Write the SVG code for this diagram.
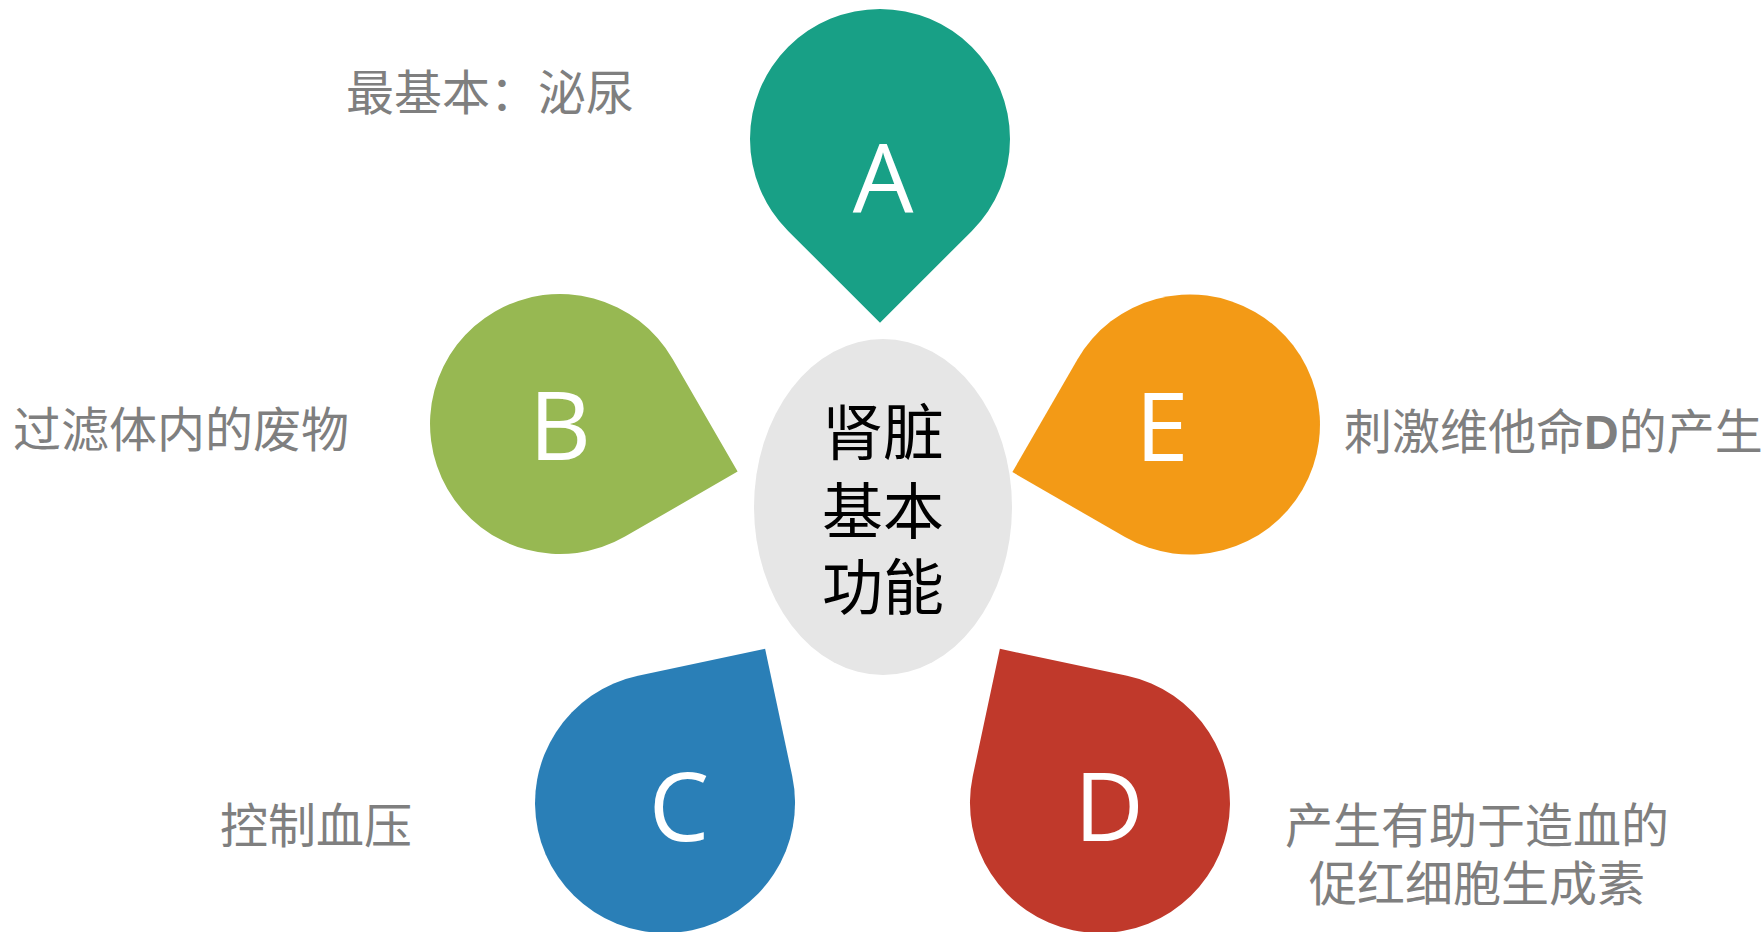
<svg xmlns="http://www.w3.org/2000/svg" width="1762" height="932" viewBox="0 0 1762 932">
  <style>
    .letter { font-family: "Open Sans", "Liberation Sans", sans-serif; font-size: 96px; fill: #ffffff; text-anchor: middle; }
    .label { font-family: "Noto Sans CJK SC", "Noto Sans", sans-serif; font-size: 48px; fill: #7f7f7f; }
    .center { font-family: "Noto Sans CJK SC", "Noto Sans", sans-serif; font-size: 61px; fill: #000000; text-anchor: middle; }
  </style>
  <rect width="1762" height="932" fill="#ffffff"/>
  <g id="connectors"></g>
  <g id="node-center">
    <ellipse cx="883" cy="507" rx="129" ry="168" fill="#e6e6e6"/>
    <text class="center" x="883" y="455">肾脏<tspan x="883" dy="79">基本</tspan><tspan x="883" dy="76">功能</tspan></text>
  </g>
  <g id="node-A">
    <path d="M 880 322.8 L 788.1 230.9 A 130 130 0 1 1 971.9 230.9 Z" fill="#18a086"/>
    <text class="letter" x="883" y="213">A</text>
  </g>
  <g id="node-B">
    <path d="M 737.6 471.6 L 625 536.6 A 130 130 0 1 1 672.6 359 Z" fill="#97b852"/>
    <text class="letter" x="560" y="460">B</text>
  </g>
  <g id="node-C">
    <path d="M 765.1 648.8 L 792.2 776 A 130 130 0 1 1 638 675.8 Z" fill="#2a7fb7"/>
    <text class="letter" x="679" y="841">C</text>
  </g>
  <g id="node-D">
    <path d="M 999.9 648.8 L 1127 675.8 A 130 130 0 1 1 972.8 776 Z" fill="#c0392b"/>
    <text class="letter" x="1109" y="841">D</text>
  </g>
  <g id="node-E">
    <path d="M 1012.4 472.1 L 1077.4 359.5 A 130 130 0 1 1 1125 537.1 Z" fill="#f39a16"/>
    <text class="letter" x="1162" y="461">E</text>
  </g>
  <g id="label-A"><text class="label" x="346" y="110">最基本：泌尿</text></g>
  <g id="label-B"><text class="label" x="13" y="447">过滤体内的废物</text></g>
  <g id="label-C"><text class="label" x="220" y="843">控制血压</text></g>
  <g id="label-D">
    <text class="label" x="1477" y="843" text-anchor="middle">产生有助于造血的<tspan x="1477" dy="58">促红细胞生成素</tspan></text>
  </g>
  <g id="label-E"><text class="label" x="1344" y="449" font-size="47.5">刺激维他命<tspan font-family="'Liberation Sans', sans-serif" font-weight="bold">D</tspan>的产生</text></g>
</svg>
